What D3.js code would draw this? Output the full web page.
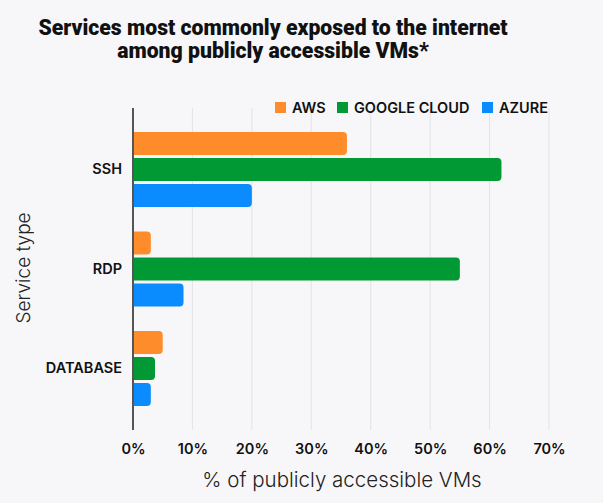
<!DOCTYPE html>
<html>
<head>
<meta charset="utf-8">
<script src="https://cdn.jsdelivr.net/npm/d3@7"></script>
<style>
  body { margin: 0; background: #f7f7f9; }
  text { font-family: "Inter", "Roboto", sans-serif; fill: #111; }
</style>
</head>
<body>
<div id="chart-area"></div>
<script>
// data
var services = ["SSH", "RDP", "DATABASE"];
var providers = ["AWS", "GOOGLE CLOUD", "AZURE"];
var awsValues = [36, 3, 5];
var googleValues = [62, 55, 3.7];
var azureValues = [20, 8.5, 3];
var xTicks = [0, 10, 20, 30, 40, 50, 60, 70];
var colors = ["#ff8c2a", "#009933", "#0a8cff"];

var width = 603;
var height = 503;
var margin = {top: 108, right: 54, bottom: 73, left: 133};
var innerW = width - margin.left - margin.right;
var innerH = height - margin.top - margin.bottom;

var rows = [];
services.forEach(function(s, i) {
  rows.push({service: s, provider: providers[0], value: awsValues[i]});
  rows.push({service: s, provider: providers[1], value: googleValues[i]});
  rows.push({service: s, provider: providers[2], value: azureValues[i]});
});

var svg = d3.select("#chart-area").append("svg")
            .attr("width", width)
            .attr("height", height);

svg.append("defs").append("clipPath")
   .attr("id", "plot-clip")
   .append("rect")
   .attr("x", 0).attr("y", 0)
   .attr("width", innerW + 10)
   .attr("height", innerH);

var g = svg.append("g")
           .attr("transform", "translate(" + margin.left + "," + margin.top + ")");

var x = d3.scaleLinear()
          .domain([0, 70])
          .range([0, 416]);

var y = d3.scaleBand()
          .domain(services)
          .range([0, innerH])
          .paddingInner(0.246)
          .paddingOuter(0.241);

var y1 = d3.scaleBand()
           .domain(providers)
           .range([0, y.bandwidth()])
           .paddingInner(0.115);

var color = d3.scaleOrdinal()
              .domain(providers)
              .range(colors);

// gridlines
g.selectAll("line.grid")
  .data(xTicks.slice(1))
  .enter().append("line")
  .attr("class", "grid")
  .attr("x1", function(d) { return x(d); })
  .attr("x2", function(d) { return x(d); })
  .attr("y1", 0)
  .attr("y2", innerH)
  .attr("stroke", "#e3e3e6")
  .attr("stroke-width", 1);

// bars (square left edge hidden by the clip)
g.append("g")
  .attr("clip-path", "url(#plot-clip)")
  .selectAll("rect.bar")
  .data(rows)
  .enter().append("rect")
  .attr("class", "bar")
  .attr("x", x(0) - 6)
  .attr("y", function(d) { return y(d.service) + y1(d.provider); })
  .attr("width", function(d) { return x(d.value) - x(0) + 6; })
  .attr("height", y1.bandwidth())
  .attr("rx", 4)
  .attr("fill", function(d) { return color(d.provider); });

// x axis
var xAxis = d3.axisBottom(x)
              .tickValues(xTicks)
              .tickSize(0)
              .tickPadding(14)
              .tickFormat(function(d) { return d + "%"; });

var xAxisGroup = g.append("g")
                  .attr("transform", "translate(0," + innerH + ")")
                  .call(xAxis);
xAxisGroup.select(".domain").remove();
xAxisGroup.selectAll("text")
          .attr("font-size", "14.5px")
          .attr("font-weight", "600")
          .attr("fill", "#111")
          .style("font-family", "Inter, Roboto, sans-serif");

// y axis
var yAxis = d3.axisLeft(y)
              .tickSize(0)
              .tickPadding(11);

var yAxisGroup = g.append("g").call(yAxis);
yAxisGroup.select(".domain").remove();
yAxisGroup.selectAll("text")
          .attr("font-size", "14.5px")
          .attr("font-weight", "600")
          .attr("fill", "#111")
          .style("font-family", "Inter, Roboto, sans-serif");

g.append("line")
  .attr("x1", 0).attr("x2", 0)
  .attr("y1", 0).attr("y2", innerH)
  .attr("stroke", "#555")
  .attr("stroke-width", 2);

// legend
var legendX = [275, 337, 482];
var legend = svg.selectAll("g.legend")
                .data(providers)
                .enter().append("g")
                .attr("class", "legend")
                .attr("transform", function(d, i) { return "translate(" + legendX[i] + ",102)"; });
legend.append("rect")
      .attr("width", 11)
      .attr("height", 11)
      .attr("fill", function(d) { return color(d); });
legend.append("text")
      .attr("x", 17)
      .attr("y", 11)
      .attr("font-size", "14.5px")
      .attr("font-weight", "600")
      .text(function(d) { return d; });

// title
var title = svg.append("text")
               .attr("text-anchor", "middle")
               .attr("font-size", "21.2px")
               .attr("font-weight", "900")
               .style("font-family", "Roboto, sans-serif");
title.append("tspan").attr("x", 273).attr("y", 35)
     .text("Services most commonly exposed to the internet");
title.append("tspan").attr("x", 273).attr("y", 58)
     .text("among publicly accessible VMs*");

// axis labels
svg.append("text")
   .attr("x", 342)
   .attr("y", 487)
   .attr("text-anchor", "middle")
   .attr("font-size", "20.5px")
   .attr("font-weight", "300")
   .style("fill", "#222")
   .text("% of publicly accessible VMs");

svg.append("text")
   .attr("transform", "translate(30,268) rotate(-90)")
   .attr("text-anchor", "middle")
   .attr("font-size", "19px")
   .attr("font-weight", "300")
   .style("fill", "#222")
   .text("Service type");
</script>
</body>
</html>
